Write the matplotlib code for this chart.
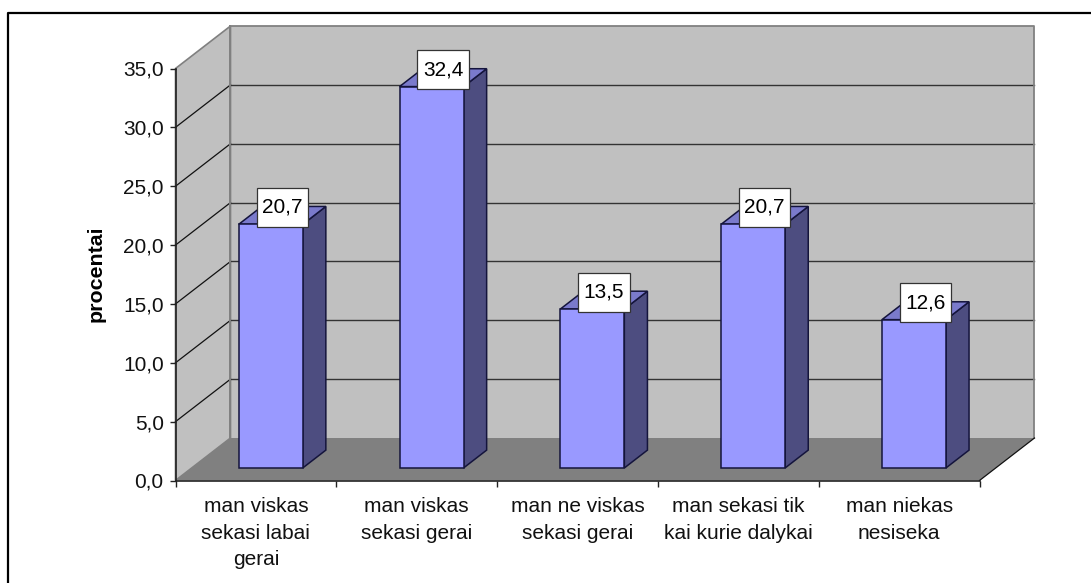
import matplotlib
matplotlib.use("Agg")
import matplotlib.pyplot as plt
from matplotlib.patches import Polygon, Rectangle
from matplotlib.lines import Line2D

plt.rcParams['font.family'] = ['Liberation Sans', 'DejaVu Sans']

categories = ["man viskas\nsekasi labai\ngerai", "man viskas\nsekasi gerai", "man ne viskas\nsekasi gerai",
              "man sekasi tik\nkai kurie dalykai", "man niekas\nnesiseka"]
values = [20.7, 32.4, 13.5, 20.7, 12.6]
value_labels = ["20,7", "32,4", "13,5", "20,7", "12,6"]
y_ticks = [0, 5, 10, 15, 20, 25, 30, 35]
y_tick_labels = ["0,0", "5,0", "10,0", "15,0", "20,0", "25,0", "30,0", "35,0"]

W, H = 1091, 583
fig = plt.figure(figsize=(W / 100, H / 100), dpi=100, facecolor='white')
ax = fig.add_axes([175.5 / W, 1 - 480.5 / H, 804 / W, 412 / H])
ax.set_xlim(0, 5)
ax.set_ylim(0, 35)
ax.patch.set_visible(False)

# depth of the fake 3d box, in data units
DX = 0.342
DY = 3.61
WALL = '#C0C0C0'
FLOOR = '#808080'
EDGE = '#808080'

# walls and floor
ax.add_patch(Polygon([(DX, DY), (5 + DX, DY), (5 + DX, 35 + DY), (DX, 35 + DY)], fc=WALL, ec='none', clip_on=False, zorder=1))
ax.add_patch(Polygon([(0, 0), (DX, DY), (DX, 35 + DY), (0, 35)], fc=WALL, ec=EDGE, lw=1.2, clip_on=False, zorder=1))
ax.add_patch(Polygon([(0, 0), (5, 0), (5 + DX, DY), (DX, DY)], fc=FLOOR, ec='none', clip_on=False, zorder=1))

# gridlines
for t in y_ticks[1:-1]:
    ax.plot([0, DX], [t, t + DY], color='#111111', lw=0.9, clip_on=False, zorder=2)
    ax.plot([DX, 5 + DX], [t + DY, t + DY], color='#333333', lw=1.0, clip_on=False, zorder=2)
ax.plot([DX, 5 + DX, 5 + DX], [35 + DY, 35 + DY, DY], color=EDGE, lw=1.3, clip_on=False, zorder=2)
ax.plot([DX, DX], [DY, 35 + DY], color=EDGE, lw=1.4, clip_on=False, zorder=2)
ax.plot([5, 5 + DX], [0, DY], color='#111111', lw=0.9, clip_on=False, zorder=2)

# bars
BAR_W = 0.398
START_X = 0.27
START_Y = 0.295
DEPTH = 0.42
BAR_EDGE = '#14143c'
# label box size, data units
BOX_W = 0.319
BOX_H = 3.3
for i, v in enumerate(values):
    x0 = i + 0.5 - BAR_W / 2 + START_X * DX
    x1 = x0 + BAR_W
    y0 = START_Y * DY
    y1 = y0 + v
    ddx = DEPTH * DX
    ddy = DEPTH * DY
    ax.add_patch(Polygon([(x1, y0), (x1 + ddx, y0 + ddy), (x1 + ddx, y1 + ddy), (x1, y1)],
                         fc='#4D4D80', ec=BAR_EDGE, lw=1.1, clip_on=False, zorder=3))
    ax.add_patch(Polygon([(x0, y1), (x1, y1), (x1 + ddx, y1 + ddy), (x0 + ddx, y1 + ddy)],
                         fc='#7A7ACC', ec=BAR_EDGE, lw=1.1, clip_on=False, zorder=3))
    ax.add_patch(Polygon([(x0, y0), (x1, y0), (x1, y1), (x0, y1)],
                         fc='#9999FF', ec=BAR_EDGE, lw=1.1, clip_on=False, zorder=4))
    cx = (x0 + x1 + ddx) / 2
    cy = y1 + ddy - 0.08
    ax.add_patch(Rectangle((cx - BOX_W / 2, cy - BOX_H / 2), BOX_W, BOX_H, fc='white', ec='#333333', lw=0.9, clip_on=False, zorder=6))
    ax.text(cx, cy, value_labels[i], ha='center', va='center', fontsize=15, color='black', zorder=7)

# axes
for s in ['top', 'right']:
    ax.spines[s].set_visible(False)
for s in ['left', 'bottom']:
    ax.spines[s].set_color('#222222')
    ax.spines[s].set_linewidth(1.2)
    ax.spines[s].set_zorder(5)
ax.set_yticks(y_ticks)
ax.set_yticklabels(y_tick_labels, fontsize=15, color='#111111')
ax.tick_params(axis='y', length=4.5, width=1, color='#222222', pad=4)
ax.set_xticks(range(6))
ax.set_xticklabels([])
ax.tick_params(axis='x', length=4.5, width=1, color='#222222')
ax.set_xticks([i + 0.5 for i in range(5)], minor=True)
ax.set_xticklabels(categories, minor=True, fontsize=15, color='#111111', linespacing=1.5)
ax.tick_params(axis='x', which='minor', length=0, pad=12)
ax.set_ylabel("procentai", fontsize=15.4, fontweight='bold')
ax.yaxis.set_label_coords(-0.087, 0.503)

# chart border, only top and left are inside the picture
fig.add_artist(Line2D([7.5 / W, 7.5 / W, 1], [0, 1 - 12.5 / H, 1 - 12.5 / H], color='black', lw=1.6))

fig.savefig("out.png", dpi=100)
